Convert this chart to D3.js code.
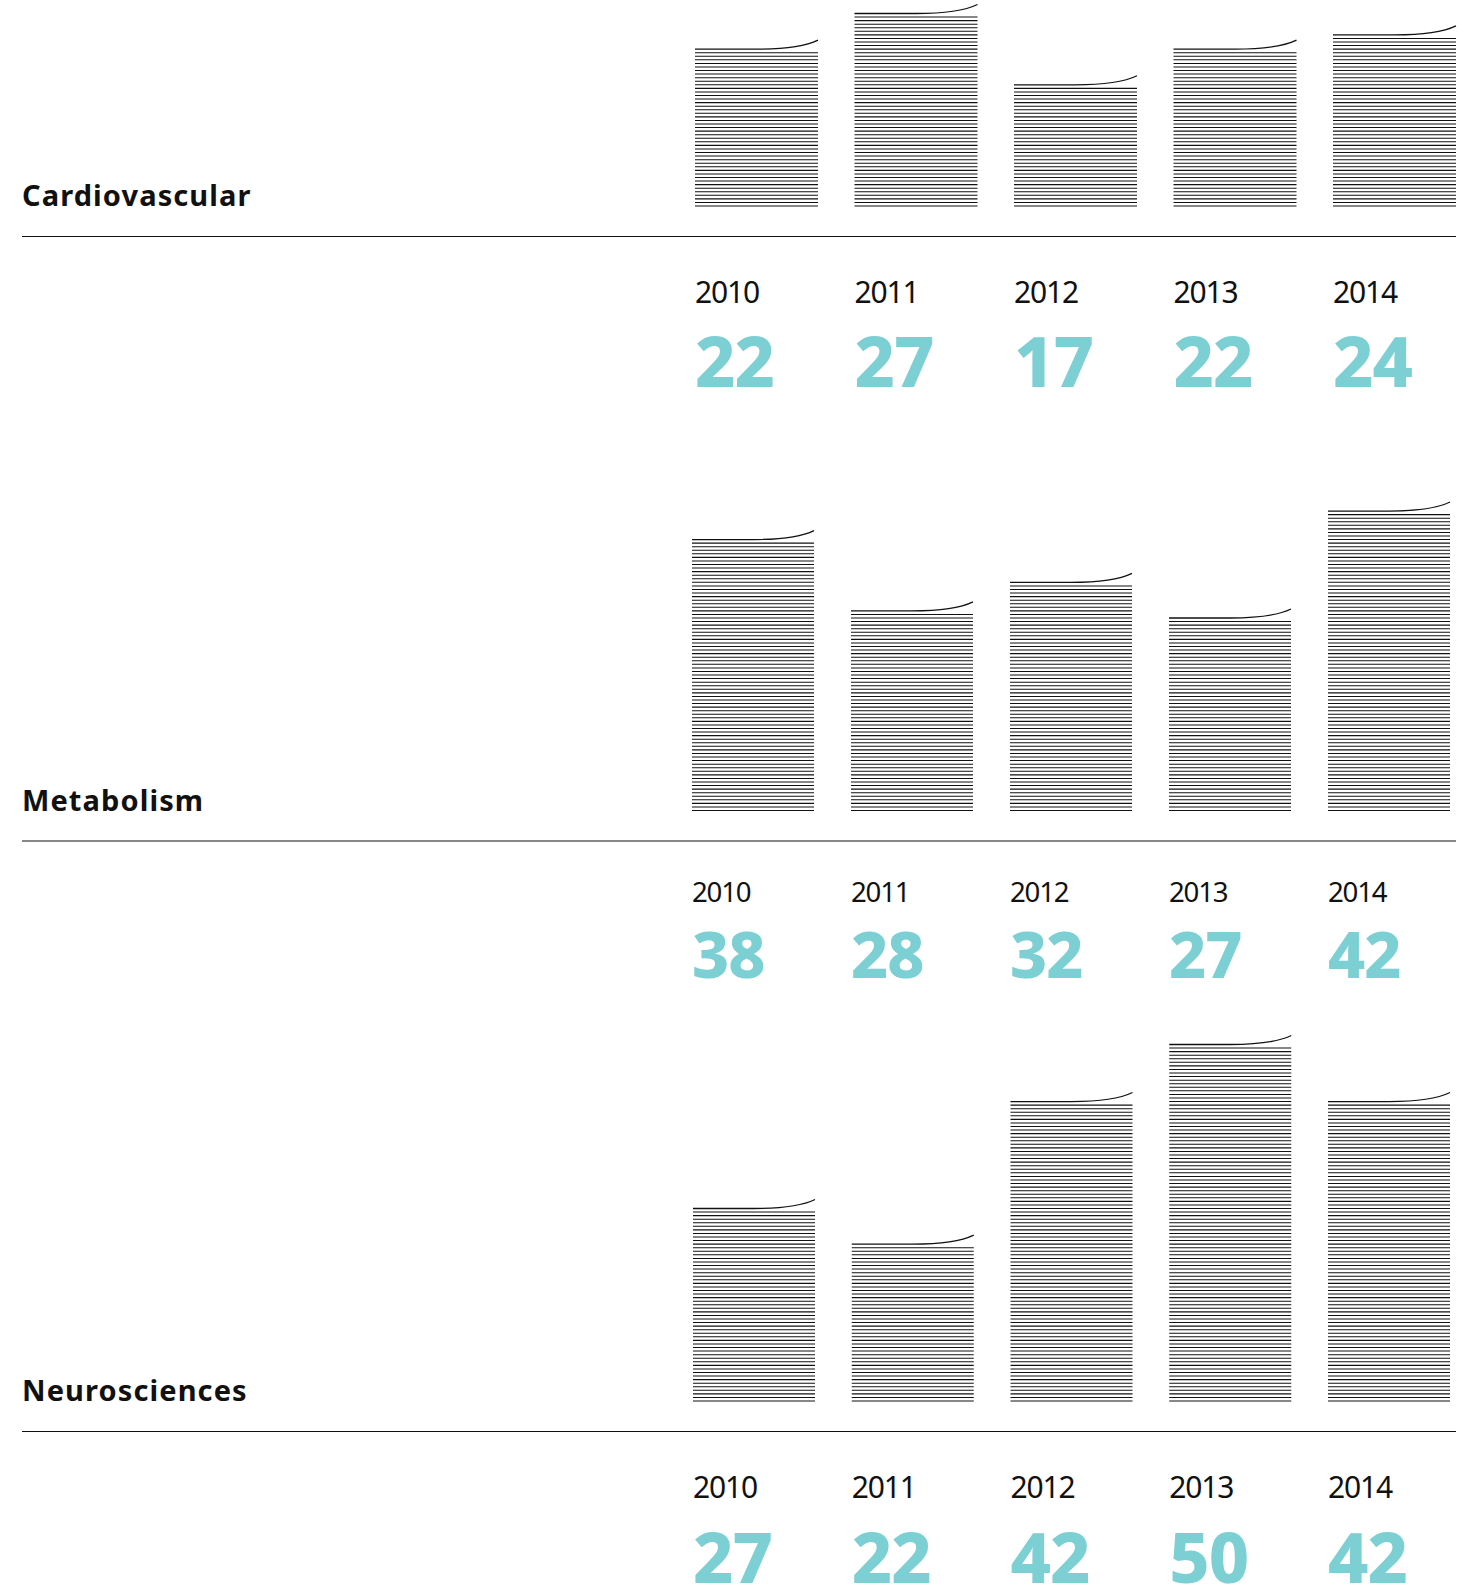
<!DOCTYPE html>
<html>
<head>
<meta charset="utf-8">
<script src="https://cdn.jsdelivr.net/npm/d3@7"></script>
<style>
  body { margin: 0; background: #fff; }
  svg { display: block; }
</style>
</head>
<body>
<svg id="chart" width="1468" height="1589"></svg>
<script>
// values
const years = ["2010", "2011", "2012", "2013", "2014"];
const categories = ["Cardiovascular", "Metabolism", "Neurosciences"];
const cardiovascular = [22, 27, 17, 22, 24];
const metabolism = [38, 28, 32, 27, 42];
const neurosciences = [27, 22, 42, 50, 42];

const series = [cardiovascular, metabolism, neurosciences];

// layout for each block (bar baseline, bar span, text offsets below the rule, text scale)
const layout = [
    { bottom: 206, x0: 695, x1: 1456, bw: 123, yearDy: 67, numDy: 151, s: 1 },
    { bottom: 810.5, x0: 692, x1: 1450, bw: 122, yearDy: 61, numDy: 137, s: 0.92 },
    { bottom: 1401, x0: 693, x1: 1450, bw: 122, yearDy: 67, numDy: 152, s: 1 }
];

const teal = "#7ccfd2";
const svg = d3.select("#chart");

// 7.13px per unit, two hatch lines per unit
const hScale = d3.scaleLinear().domain([0, 50]).range([0, 356.5]);

categories.forEach((cat, p) => {
    const L = layout[p];
    const values = series[p];
    const g = svg.append("g");

    const x = d3.scaleBand()
        .domain(years)
        .range([L.x0, L.x1])
        .paddingInner((L.x1 - L.x0 - 5 * L.bw) / 4 / ((L.x1 - L.x0 - L.bw) / 4));

    const y = d3.scaleLinear()
        .domain([0, 50])
        .range([L.bottom, L.bottom - hScale(50)]);

    // category name, sits on the bar baseline
    g.append("text")
        .attr("x", 22)
        .attr("y", L.bottom)
        .attr("font-family", "'Noto Sans', sans-serif")
        .attr("font-weight", 700)
        .attr("font-size", "29px")
        .attr("letter-spacing", "1.1px")
        .attr("fill", "#111")
        .text(cat);

    const sep = L.bottom + 30;
    g.append("line")
        .attr("x1", 22).attr("x2", 1456)
        .attr("y1", sep + 0.5).attr("y2", sep + 0.5)
        .attr("stroke", "#111")
        .attr("stroke-width", 1.1);

    const bars = g.selectAll(".bar")
        .data(values.map((v, i) => ({ year: years[i], value: v })))
        .enter().append("g")
        .attr("class", "bar");

    // hatch lines: one every half unit from the baseline up
    bars.each(function (d) {
        const steps = d3.range(0, d.value, 0.5);
        const bx = x(d.year);
        d3.select(this).selectAll("line")
            .data(steps)
            .enter().append("line")
            .attr("x1", bx)
            .attr("x2", bx + x.bandwidth())
            .attr("y1", s => y(s))
            .attr("y2", s => y(s))
            .attr("stroke", "#111")
            .attr("stroke-width", 1.05);
    });

    // curled top line
    bars.append("path")
        .attr("d", d => {
            const bx = x(d.year), w = x.bandwidth(), ty = y(d.value);
            return `M${bx},${ty} L${bx + 0.5 * w},${ty} Q${bx + 0.85 * w},${ty} ${bx + w},${ty - 9}`;
        })
        .attr("fill", "none")
        .attr("stroke", "#111")
        .attr("stroke-width", 1.3);

    g.selectAll(".year")
        .data(years)
        .enter().append("text")
        .attr("class", "year")
        .attr("x", d => x(d))
        .attr("y", sep + L.yearDy)
        .attr("font-family", "'Noto Sans', sans-serif")
        .attr("font-weight", 400)
        .attr("font-size", (30 * L.s) + "px")
        .attr("letter-spacing", "-1.2px")
        .attr("fill", "#111")
        .text(d => d);

    g.selectAll(".num")
        .data(values)
        .enter().append("text")
        .attr("class", "num")
        .attr("x", (d, i) => x(years[i]))
        .attr("y", sep + L.numDy)
        .attr("font-family", "'Noto Sans', sans-serif")
        .attr("font-weight", 800)
        .attr("font-size", (70 * L.s) + "px")
        .attr("letter-spacing", "-1px")
        .attr("fill", teal)
        .text(d => d);
});
</script>
</body>
</html>
